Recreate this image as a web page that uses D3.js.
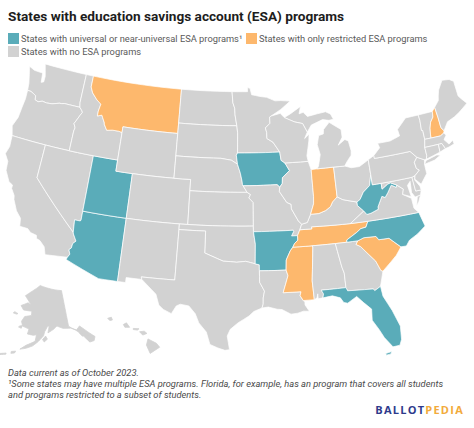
<!DOCTYPE html>
<html>
<head>
<meta charset="utf-8">
<title>States with education savings account (ESA) programs</title>
<script src="https://d3js.org/d3.v7.min.js"></script>
<style>
html, body { margin: 0; padding: 0; background: #fff; }
svg { display: block; }
text { font-family: Roboto, sans-serif; }
.state { stroke: #fff; stroke-width: 0.7px; stroke-linejoin: round; }
.state.inset { stroke: #d2d2d2; stroke-width: 0.8px; }
.title { font-size: 13.65px; font-weight: 700; fill: #1d1d1d; }
.legend { font-size: 9.3px; fill: #5a5a5a; }
.note { font-size: 9.3px; font-style: italic; fill: #4a4a4a; }
.logo { font-size: 11px; font-weight: 700; letter-spacing: 1.25px; font-family: "Open Sans", sans-serif; }
</style>
</head>
<body>
<svg id="chart" width="474" height="428"></svg>
<script>
var titleText = "States with education savings account (ESA) programs";
var categories = ["universal", "restricted", "none"];
var categoryLabels = ["States with universal or near-universal ESA programs¹", "States with only restricted ESA programs", "States with no ESA programs"];
var universalStates = ["UT", "AZ", "IA", "AR", "WV", "NC", "FL"];
var restrictedStates = ["MT", "IN", "MS", "TN", "SC", "NH"];
var noteLines = ["Data current as of October 2023.", "¹Some states may have multiple ESA programs. Florida, for example, has an program that covers all students", "and programs restricted to a subset of students."];

// state outlines, lon/lat read by eye. each state is a list of flat rings
var WA = [[-124.7,48.4,-123.9,48.17,-123.1,48.15,-122.75,48.15,-122.6,47.3,-122.3,47.4,-122.3,47.9,-122.5,48.4,-122.76,49,-117.03,49,-117.04,46.42,-116.92,45.99,-118.98,46,-119.3,45.93,-119.6,45.92,-120.5,45.7,-121.2,45.65,-121.8,45.7,-122.3,45.55,-122.75,45.65,-122.8,46,-123.2,46.15,-123.55,46.26,-124,46.27,-124.1,46.9,-124.4,47.7]];
var OR = [[-124,46.27,-123.55,46.26,-123.2,46.15,-122.8,46,-122.75,45.65,-122.3,45.55,-121.8,45.7,-121.2,45.65,-120.5,45.7,-119.6,45.92,-119.3,45.93,-118.98,46,-116.92,45.99,-116.6,45.75,-116.46,45.6,-116.67,45.3,-116.85,45,-117.2,44.45,-117.03,44.23,-116.95,44.1,-117.03,43.8,-117.03,42,-120,42,-124.2,42,-124.55,42.84,-124.15,43.7,-124.05,44.7,-123.95,45.5]];
var CA = [[-124.2,42,-120,42,-120,39,-114.63,35,-114.57,34.85,-114.15,34.27,-114.45,34,-114.5,33.6,-114.72,33.4,-114.53,33.03,-114.72,32.72,-117.12,32.53,-117.25,32.85,-117.4,33.2,-118,33.65,-118.4,33.75,-118.5,34.03,-119.2,34.15,-119.6,34.42,-120.5,34.45,-120.65,35.15,-121.3,35.7,-121.9,36.6,-122,36.95,-122.5,37.5,-122.5,37.8,-123,38,-123.7,38.9,-123.8,39.7,-124.35,40.3,-124.1,41]];
var NV = [[-120,42,-117.03,42,-114.04,42,-114.04,37,-114.04,36.2,-114.1,36.1,-114.75,36.1,-114.63,35,-120,39]];
var AZ = [[-114.04,37,-109.05,37,-109.05,31.33,-111.07,31.33,-114.81,32.5,-114.72,32.72,-114.53,33.03,-114.72,33.4,-114.5,33.6,-114.45,34,-114.15,34.27,-114.57,34.85,-114.63,35,-114.75,36.1,-114.1,36.1,-114.04,36.2]];
var UT = [[-114.04,42,-111.05,42,-111.05,41,-109.05,41,-109.05,37,-114.04,37]];
var ID = [[-117.03,49,-116.05,49,-116.05,48,-115.7,47.5,-114.95,46.95,-114.35,46.65,-114.5,46,-114.5,45.55,-113.95,45.7,-113.8,45.5,-113.45,45.05,-113.45,44.95,-113,44.45,-112.3,44.55,-111.5,44.55,-111.05,44.48,-111.05,42,-114.04,42,-117.03,42,-117.03,43.8,-116.95,44.1,-117.03,44.23,-117.2,44.45,-116.85,45,-116.67,45.3,-116.46,45.6,-116.6,45.75,-116.92,45.99,-117.04,46.42]];
var MT = [[-116.05,49,-104.05,49,-104.05,45.94,-104.05,45,-111.05,45,-111.05,44.48,-111.5,44.55,-112.3,44.55,-113,44.45,-113.45,44.95,-113.45,45.05,-113.8,45.5,-113.95,45.7,-114.5,45.55,-114.5,46,-114.35,46.65,-114.95,46.95,-115.7,47.5,-116.05,48]];
var WY = [[-111.05,45,-104.05,45,-104.05,43,-104.05,41,-109.05,41,-111.05,41,-111.05,42,-111.05,44.48]];
var CO = [[-109.05,41,-104.05,41,-102.05,41,-102.05,40,-102.05,37,-103,37,-109.05,37]];
var NM = [[-109.05,37,-103,37,-103,36.5,-103.05,32,-106.62,32,-106.53,31.78,-108.2,31.78,-108.2,31.33,-109.05,31.33]];
var ND = [[-104.05,49,-97.23,49,-97.1,48,-96.85,47.5,-96.8,46.9,-96.56,45.93,-104.05,45.94]];
var SD = [[-104.05,45.94,-96.56,45.93,-96.45,45.3,-96.45,43.5,-96.6,43.3,-96.45,42.5,-97.2,42.85,-98.5,43,-104.05,43,-104.05,45]];
var NE = [[-104.05,43,-98.5,43,-97.2,42.85,-96.45,42.5,-96.1,41.7,-95.9,41,-95.85,40.7,-95.77,40.58,-95.3,40,-102.05,40,-102.05,41,-104.05,41]];
var KS = [[-102.05,40,-95.3,40,-94.9,39.8,-95.1,39.5,-94.6,39.1,-94.62,37,-102.05,37]];
var OK = [[-103,37,-102.05,37,-94.62,37,-94.62,36.5,-94.43,35.4,-94.48,33.65,-95.5,33.88,-96.5,33.8,-97.2,33.85,-97.95,33.88,-99.2,34.3,-100,34.56,-100,36.5,-103,36.5]];
var TX = [[-103,36.5,-100,36.5,-100,34.56,-99.2,34.3,-97.95,33.88,-97.2,33.85,-96.5,33.8,-95.5,33.88,-94.48,33.65,-94.04,33.55,-94.04,33.02,-94.04,32,-93.55,31.2,-93.7,30.6,-93.72,30.05,-93.85,29.7,-94.7,29.4,-95.2,29,-96.3,28.4,-97.1,27.8,-97.4,27.2,-97.15,25.97,-97.6,25.9,-98.3,26.1,-99.1,26.4,-99.5,27.5,-100.3,28.3,-100.7,29.1,-101.4,29.77,-102.3,29.88,-102.7,29.7,-103.15,28.98,-104,29.3,-104.5,29.65,-104.9,30.6,-106,31.4,-106.53,31.78,-106.62,32,-103.05,32]];
var MN = [[-97.23,49,-95.15,49,-95.15,49.38,-94.8,49.3,-94.6,48.72,-93.5,48.55,-92.6,48.45,-91.5,48.1,-90.75,48.1,-89.5,48,-90.8,47.3,-92.1,46.75,-92.3,46.66,-92.29,46.1,-92.9,45.7,-92.75,45.3,-92.75,44.75,-92,44.4,-91.22,43.5,-96.45,43.5,-96.45,45.3,-96.56,45.93,-96.8,46.9,-96.85,47.5,-97.1,48]];
var IA = [[-96.45,43.5,-91.22,43.5,-91.1,42.75,-90.65,42.5,-90.15,41.8,-91.05,41.2,-91.1,40.7,-91.42,40.38,-91.73,40.61,-95.77,40.58,-95.85,40.7,-95.9,41,-96.1,41.7,-96.45,42.5,-96.6,43.3]];
var MO = [[-95.77,40.58,-91.73,40.61,-91.42,40.38,-91.5,40,-90.7,39,-90.2,38.8,-90.2,38.4,-89.5,37.3,-89.15,36.98,-89.4,36.5,-89.7,36,-90.37,36,-90.1,36.4,-90.15,36.5,-94.62,36.5,-94.62,37,-94.6,39.1,-95.1,39.5,-94.9,39.8,-95.3,40]];
var AR = [[-94.62,36.5,-90.15,36.5,-90.1,36.4,-90.37,36,-89.7,36,-89.7,35.6,-90.1,35.3,-90.3,35,-90.6,34.7,-91.1,33.9,-91.17,33,-94.04,33.02,-94.04,33.55,-94.48,33.65,-94.43,35.4]];
var LA = [[-94.04,33.02,-91.17,33,-91,32.5,-91.6,31,-89.73,31,-89.85,30.65,-89.55,30.2,-89.4,30.05,-89.4,29.8,-89,29.2,-89.6,29.25,-90.2,29.1,-90.9,29.05,-91.8,29.5,-92.3,29.55,-93.2,29.77,-93.85,29.7,-93.72,30.05,-93.7,30.6,-93.55,31.2,-94.04,32]];
var MS = [[-90.3,35,-88.2,35,-88.1,34.9,-88.47,31.9,-88.4,30.2,-89.55,30.2,-89.85,30.65,-89.73,31,-91.6,31,-91,32.5,-91.17,33,-91.1,33.9,-90.6,34.7]];
var TN = [[-90.3,35,-90.1,35.3,-89.7,35.6,-89.7,36,-89.4,36.5,-88.05,36.5,-88.07,36.68,-83.68,36.6,-81.68,36.59,-82,36.1,-82.6,36.03,-83.1,35.75,-84.3,35.2,-84.32,35,-85.6,35,-88.2,35]];
var KY = [[-89.4,36.5,-89.15,36.98,-88.5,37.1,-88.05,37.8,-87.1,37.8,-86.3,38,-85.7,38.3,-85.4,38.7,-84.8,39.1,-84.2,38.8,-83.6,38.65,-82.6,38.42,-82.6,38.1,-81.97,37.54,-83.68,36.6,-88.07,36.68,-88.05,36.5]];
var IL = [[-91.42,40.38,-91.1,40.7,-91.05,41.2,-90.15,41.8,-90.65,42.5,-87.8,42.5,-87.53,41.72,-87.53,39.35,-87.6,38.7,-88.05,37.8,-88.5,37.1,-89.15,36.98,-89.5,37.3,-90.2,38.4,-90.2,38.8,-90.7,39,-91.5,40]];
var IN = [[-87.53,41.72,-87.2,41.75,-86.8,41.76,-84.8,41.76,-84.8,39.1,-85.4,38.7,-85.7,38.3,-86.3,38,-87.1,37.8,-88.05,37.8,-87.6,38.7,-87.53,39.35]];
var OH = [[-84.8,41.76,-83.45,41.73,-82.7,41.5,-81.7,41.5,-80.52,41.97,-80.52,40.64,-80.85,39.7,-81.7,39.2,-82.2,38.6,-82.6,38.42,-83.6,38.65,-84.2,38.8,-84.8,39.1]];
var MI = [[-86.8,41.76,-84.8,41.76,-83.45,41.73,-83.15,42.05,-82.5,42.6,-82.42,43,-82.6,43.9,-83,44.07,-83.9,43.65,-83.3,44.3,-83.3,45,-84.7,45.77,-85.5,45.2,-85.6,44.8,-86.2,44.7,-86.5,43.9,-86.25,43,-86.6,42],
  [-84.7,45.95,-84.1,46,-84.4,46.5,-85,46.75,-86.1,46.65,-87.4,46.5,-87.9,46.9,-88.45,46.8,-88.2,47.45,-89.6,46.85,-90.4,46.55,-89.1,46.1,-88.1,45.9,-87.6,45.1,-87,45.7,-85.5,46.08]];
var WI = [[-92.1,46.75,-90.9,46.95,-90.4,46.55,-89.1,46.1,-88.1,45.9,-87.6,45.1,-88,44.55,-87.4,44.9,-87.5,44.3,-87.9,43,-87.8,42.5,-90.65,42.5,-91.1,42.75,-91.22,43.5,-92,44.4,-92.75,44.75,-92.75,45.3,-92.9,45.7,-92.29,46.1,-92.3,46.66]];
var AL = [[-88.2,35,-85.6,35,-85.18,32.87,-85,32.3,-85,31,-87.6,31,-87.4,30.65,-87.5,30.3,-88,30.25,-88,30.7,-88.1,30.35,-88.4,30.2,-88.47,31.9,-88.1,34.9]];
var GA = [[-85.6,35,-83.1,35,-83.35,34.7,-82.9,34.47,-81.5,33,-81.1,32.1,-80.9,32,-81.4,30.7,-82.05,30.4,-82.2,30.57,-84.86,30.7,-85,31,-85,32.3,-85.18,32.87]];
var FL = [[-87.6,31,-85,31,-84.86,30.7,-82.2,30.57,-82.05,30.4,-81.4,30.7,-81.3,29.8,-80.6,28.4,-80.05,26.9,-80.15,25.7,-80.4,25.2,-81.1,25.15,-81.8,26.1,-82.2,26.9,-82.75,27.8,-82.65,28.8,-83.4,29.5,-84,30.1,-85,29.6,-85.4,29.7,-85.7,30.15,-86.5,30.4,-87.5,30.3,-87.4,30.65],
  [-81.9,24.65,-81.3,24.75,-81.4,24.55,-81.85,24.5]];
var SC = [[-83.35,34.7,-83.1,35,-82.4,35.2,-81.05,35.15,-80.8,34.82,-79.67,34.8,-78.55,33.86,-79.2,33.2,-79.9,32.7,-80.9,32,-81.1,32.1,-81.5,33,-82.9,34.47]];
var NC = [[-84.32,35,-84.3,35.2,-83.1,35.75,-82.6,36.03,-82,36.1,-81.68,36.59,-75.87,36.55,-75.5,35.25,-76.5,34.7,-77.5,34.3,-77.95,33.85,-78.55,33.86,-79.67,34.8,-80.8,34.82,-81.05,35.15,-82.4,35.2,-83.1,35]];
var VA = [[-83.68,36.6,-81.97,37.54,-81.68,37.2,-81.2,37.25,-80.3,37.5,-80.3,37.7,-79.65,38.57,-79.3,38.42,-78.9,38.8,-78.35,39.4,-77.83,39.13,-77.72,39.32,-77.05,38.85,-77.25,38.4,-76.35,37.9,-76.3,37,-75.87,36.55,-81.68,36.59],
  [-75.95,37.15,-75.65,37.95,-75.25,38.03,-75.6,37.5]];
var WV = [[-82.6,38.42,-82.2,38.6,-81.7,39.2,-80.85,39.7,-80.52,40.64,-80.52,39.72,-79.48,39.72,-79.48,39.2,-78.75,39.55,-78.4,39.62,-77.72,39.32,-77.83,39.13,-78.35,39.4,-78.9,38.8,-79.3,38.42,-79.65,38.57,-80.3,37.7,-80.3,37.5,-81.2,37.25,-81.68,37.2,-81.97,37.54,-82.6,38.1]];
var MD = [[-79.48,39.72,-75.79,39.72,-75.7,38.46,-75.05,38.45,-75.25,38.03,-75.9,37.95,-76.2,38.4,-76.1,39.4,-76.5,39.1,-76.33,38.05,-77.25,38.4,-77.05,38.85,-77.72,39.32,-78.4,39.62,-78.75,39.55,-79.48,39.2]];
var DE = [[-75.79,39.72,-75.4,39.8,-75.55,39.45,-75.1,38.8,-75.05,38.45,-75.7,38.46]];
var PA = [[-80.52,41.97,-79.76,42.27,-79.76,42,-75.35,42,-74.7,41.36,-75.13,40.97,-75.05,40.4,-74.75,40.2,-75.4,39.8,-75.79,39.72,-79.48,39.72,-80.52,39.72,-80.52,40.64]];
var NJ = [[-74.7,41.36,-73.9,41,-74,40.5,-74,39.75,-74.9,38.95,-75.5,39.5,-75.4,39.8,-74.75,40.2,-75.05,40.4,-75.13,40.97]];
var NY = [[-79.76,42,-79.76,42.27,-78.9,42.85,-79.05,43.27,-77.5,43.27,-76.2,43.55,-76.3,44.15,-75,45,-73.35,45,-73.3,44.5,-73.4,43.6,-73.25,43.55,-73.27,42.75,-73.5,42.05,-73.5,41.3,-73.65,41,-73.9,41,-74.7,41.36,-75.35,42],
  [-74,40.6,-73.7,40.9,-72.3,41.15,-71.9,41.05,-72.7,40.75]];
var VT = [[-73.35,45,-71.5,45,-71.6,44.5,-72.05,44.1,-72.3,43.6,-72.45,43,-72.46,42.73,-73.27,42.75,-73.25,43.55,-73.4,43.6,-73.3,44.5]];
var NH = [[-71.5,45,-71.08,45.3,-71,44.3,-70.98,43.4,-70.7,43.07,-70.82,42.87,-71.3,42.7,-72.46,42.73,-72.45,43,-72.3,43.6,-72.05,44.1,-71.6,44.5]];
var ME = [[-71.08,45.3,-70.4,45.8,-70.25,46.2,-70,46.7,-69.23,47.46,-68.3,47.35,-67.8,47.07,-67.8,45.7,-67.45,45.3,-67,44.85,-68.2,44.3,-69,44,-70,43.75,-70.7,43.07,-70.98,43.4,-71,44.3]];
var MA = [[-73.5,42.05,-73.27,42.75,-72.46,42.73,-71.3,42.7,-70.82,42.87,-70.6,42.65,-71,42.3,-70.55,41.8,-70,42.05,-69.95,41.7,-70.65,41.55,-71.12,41.5,-71.38,42.02,-71.8,42.02]];
var CT = [[-73.5,42.05,-71.8,42.02,-71.85,41.32,-73.65,41,-73.5,41.3]];
var RI = [[-71.8,42.02,-71.38,42.02,-71.12,41.5,-71.85,41.32]];
var AK = [[-141,69.6,-141,60.3,-139.7,59.7,-137.5,58.9,-135.5,59.7,-133.5,58.4,-130,55.9,-131,55,-133,55,-135,57,-136.5,58.1,-138,59,-140,59.7,-144,60,-147,60.8,-149,60,-151.8,59.2,-151,61,-152,60.8,-153.5,59.5,-154,58.5,-156.5,57,-159,55.8,-162,55,-164.5,54.6,-162,55.8,-158,57,-157.5,58.7,-159,58.5,-162,58.7,-161.5,60,-165,60.5,-166,61.7,-164.7,63,-161,63.5,-161,64.6,-166,64.6,-168,65.6,-164,66.6,-162,66.2,-163.7,67.1,-166.5,68.3,-163,69.5,-156.6,71.35,-152,70.8,-146,70.1],
  [-154.5,57.5,-153,58.4,-152.2,57.6,-153.7,56.9],
  [-168,53.6,-166.2,53.9,-166.5,53.4,-168,53.1],
  [-172.5,52.4,-170,52.9,-170,52.6,-172.5,52.1],
  [-177,52.1,-174,52.4,-174,52,-177,51.7],
  [-166.5,60.4,-165.2,60.6,-165.5,59.9,-167,60.1],
  [-170.8,63.7,-168.8,63.4,-169.5,63.2,-171.5,63.3],
  [-136.5,58,-135.5,58.4,-134.5,57,-135.5,57],
  [-134,56.5,-132.8,56.8,-132,55.5,-133.2,55.2]];
var HI = [[-155.9,20.25,-155.1,19.85,-154.8,19.5,-155.7,18.95,-156.05,19.7],
  [-156.7,20.9,-156.25,20.95,-156,20.75,-156.4,20.6],
  [-157.3,21.2,-156.75,21.17,-156.9,21.05,-157.3,21.1],
  [-158.25,21.55,-157.95,21.7,-157.65,21.3,-158.1,21.3],
  [-159.75,22.1,-159.4,22.2,-159.3,21.95,-159.55,21.9]];

var stateShapes = {WA:WA,OR:OR,CA:CA,NV:NV,AZ:AZ,UT:UT,ID:ID,MT:MT,WY:WY,CO:CO,NM:NM,ND:ND,SD:SD,NE:NE,KS:KS,OK:OK,TX:TX,MN:MN,IA:IA,MO:MO,AR:AR,LA:LA,MS:MS,TN:TN,KY:KY,IL:IL,IN:IN,OH:OH,MI:MI,WI:WI,AL:AL,GA:GA,FL:FL,SC:SC,NC:NC,VA:VA,WV:WV,MD:MD,DE:DE,PA:PA,NJ:NJ,NY:NY,VT:VT,NH:NH,ME:ME,MA:MA,CT:CT,RI:RI};
var insetShapes = {AK:AK,HI:HI};

var colors = d3.scaleOrdinal().domain(categories).range(["#5aacb9", "#fdb86d", "#d2d2d2"]);

function categoryOf(code) {
	if (universalStates.indexOf(code) >= 0) return "universal";
	if (restrictedStates.indexOf(code) >= 0) return "restricted";
	return "none";
}

// borders follow parallels, so add points along each edge before projecting
function ringCoords(flat) {
	var pts = [];
	for (var i = 0; i < flat.length; i += 2) pts.push([flat[i], flat[i + 1]]);
	pts.push(pts[0]);
	var out = [];
	for (var j = 0; j < pts.length - 1; j++) {
		var a = pts[j], b = pts[j + 1];
		var n = Math.max(Math.ceil(Math.max(Math.abs(b[0] - a[0]), Math.abs(b[1] - a[1]))), 1);
		for (var k = 0; k < n; k++) out.push([a[0] + (b[0] - a[0]) * k / n, a[1] + (b[1] - a[1]) * k / n]);
	}
	out.push(pts[0]);
	return out;
}

function shapeFeature(code, rings) {
	var polys = rings.map(function(flat) {
		var ring = ringCoords(flat);
		// d3-geo wants clockwise rings
		if (d3.geoArea({type: "Polygon", coordinates: [ring]}) > 2 * Math.PI) ring.reverse();
		return [ring];
	});
	return {type: "Feature", id: code, geometry: {type: "MultiPolygon", coordinates: polys}};
}

var svg = d3.select("#chart");

// same layout as geoAlbersUsa, but without its inset clipping
var mapScale = 640, mapX = 236, mapY = 207;
var lower48 = d3.geoAlbers().scale(mapScale).translate([mapX, mapY]);
var alaska = d3.geoConicEqualArea().rotate([154, 0]).center([-2, 58.5]).parallels([55, 65])
	.scale(mapScale * 0.35).translate([mapX - 0.307 * mapScale, mapY + 0.201 * mapScale]);
var hawaii = d3.geoConicEqualArea().rotate([157, 0]).center([-3, 19.9]).parallels([8, 18])
	.scale(mapScale).translate([mapX - 0.205 * mapScale, mapY + 0.212 * mapScale]);

var mainPath = d3.geoPath(lower48);
var insetPaths = {AK: d3.geoPath(alaska), HI: d3.geoPath(hawaii)};

svg.append("text").attr("class", "title").attr("x", 8).attr("y", 21).text(titleText);

// legend
var legendPos = [[8, 33], [246, 33], [8, 46]];
var legend = svg.selectAll(".legend-item").data(categories).join("g")
	.attr("class", "legend-item")
	.attr("transform", function(d, i) { return "translate(" + legendPos[i] + ")"; });
legend.append("rect").attr("width", 11).attr("height", 11).attr("fill", function(d) { return colors(d); });
legend.append("text").attr("class", "legend").attr("x", 13).attr("y", 8.5)
	.text(function(d, i) { return categoryLabels[i]; });

svg.append("g").selectAll("path")
	.data(Object.keys(stateShapes).map(function(code) { return shapeFeature(code, stateShapes[code]); }))
	.join("path")
	.attr("class", "state")
	.attr("fill", function(d) { return colors(categoryOf(d.id)); })
	.attr("d", mainPath);

svg.selectAll(".note").data(noteLines).join("text")
	.attr("class", "note").attr("x", 8)
	.attr("y", function(d, i) { return 376 + i * 11; })
	.text(function(d) { return d; });

var logo = svg.append("text").attr("class", "logo").attr("x", 464).attr("y", 414).attr("text-anchor", "end");
logo.append("tspan").attr("fill", "#2d3a8c").text("BALLOT");
logo.append("tspan").attr("fill", "#f2ab3c").text("PEDIA");

// insets go last
svg.append("g").selectAll("path")
	.data(Object.keys(insetShapes).map(function(code) { return shapeFeature(code, insetShapes[code]); }))
	.join("path")
	.attr("class", "state inset")
	.attr("fill", function(d) { return colors(categoryOf(d.id)); })
	.attr("d", function(d) { return insetPaths[d.id](d); });

// check: the big island has to be the top element at its own spot, shout if not
var hit = document.elementFromPoint(152, 346);
if (!hit || !hit.__data__ || hit.__data__.id !== "HI") {
	svg.append("text").attr("x", 100).attr("y", 340).attr("fill", "red").text("HI MISSING");
}
</script>
</body>
</html>
